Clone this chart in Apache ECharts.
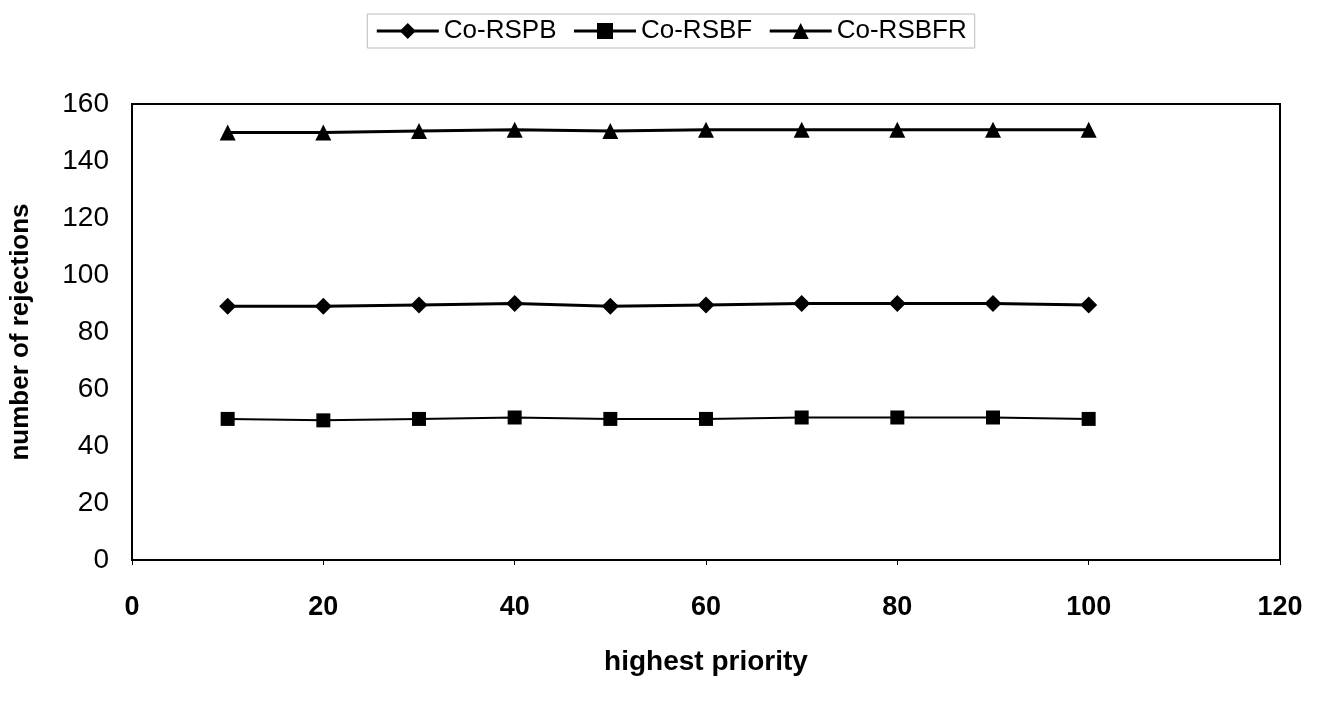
<!DOCTYPE html>
<html>
<head>
<meta charset="utf-8">
<script src="https://cdn.jsdelivr.net/npm/echarts@6/dist/echarts.min.js"></script>
<style>
    html, body { margin: 0; padding: 0; background: #fff; }
    #chart { width: 1342px; height: 704px; }
</style>
</head>
<body>
<div id="chart"></div>
<script>
    // values
    var priority = [10, 20, 30, 40, 50, 60, 70, 80, 90, 100];
    var coRSPB = [89, 89, 89.5, 90, 89, 89.5, 90, 90, 90, 89.5];
    var coRSBF = [49.5, 49, 49.5, 50, 49.5, 49.5, 50, 50, 50, 49.5];
    var coRSBFR = [150, 150, 150.5, 151, 150.5, 151, 151, 151, 151, 151];

    function pairs(ys) {
        return priority.map(function (x, i) { return [x, ys[i]]; });
    }

    var font = 'Liberation Sans, Arial, sans-serif';
    var chart = echarts.init(document.getElementById('chart'));
    chart.setOption({
        backgroundColor: '#fff',
        animation: false,
        legend: {
            top: 14,
            left: 'center',
            itemWidth: 62,
            itemHeight: 20,
            itemGap: 16,
            padding: [4, 8],
            borderColor: '#bbb',
            borderWidth: 1,
            lineStyle: { width: 3, color: '#000' },
            textStyle: { fontFamily: font, fontSize: 26, color: '#000' },
            data: ['Co-RSPB', 'Co-RSBF', 'Co-RSBFR']
        },
        grid: {
            left: 130,
            right: 62,
            top: 104,
            bottom: 144,
            show: true,
            borderColor: '#000',
            borderWidth: 2
        },
        xAxis: {
            type: 'value',
            min: 0,
            max: 120,
            interval: 20,
            name: 'highest priority',
            nameLocation: 'middle',
            nameGap: 88,
            nameTextStyle: { fontFamily: font, fontSize: 28, fontWeight: 'bold', color: '#000' },
            axisLine: { lineStyle: { color: '#000', width: 2 } },
            axisTick: { show: true, length: 5, lineStyle: { color: '#000' } },
            axisLabel: { margin: 34, fontFamily: font, fontSize: 27, fontWeight: 'bold', color: '#000' },
            splitLine: { show: false }
        },
        yAxis: {
            type: 'value',
            min: 0,
            max: 160,
            interval: 20,
            name: 'number of rejections',
            nameLocation: 'middle',
            nameGap: 98,
            nameTextStyle: { fontFamily: font, fontSize: 26, fontWeight: 'bold', color: '#000' },
            axisLine: { show: true, lineStyle: { color: '#000', width: 2 } },
            axisTick: { show: false },
            axisLabel: { margin: 23, fontFamily: font, fontSize: 28, color: '#000' },
            splitLine: { show: false }
        },
        series: [
            {
                name: 'Co-RSPB',
                type: 'line',
                data: pairs(coRSPB),
                symbol: 'diamond',
                symbolSize: 17,
                itemStyle: { color: '#000' },
                lineStyle: { color: '#000', width: 3 }
            },
            {
                name: 'Co-RSBF',
                type: 'line',
                data: pairs(coRSBF),
                symbol: 'rect',
                symbolSize: 14,
                itemStyle: { color: '#000' },
                lineStyle: { color: '#000', width: 2 }
            },
            {
                name: 'Co-RSBFR',
                type: 'line',
                data: pairs(coRSBFR),
                symbol: 'triangle',
                symbolSize: 16,
                itemStyle: { color: '#000' },
                lineStyle: { color: '#000', width: 3 }
            }
        ]
    });
</script>
</body>
</html>
